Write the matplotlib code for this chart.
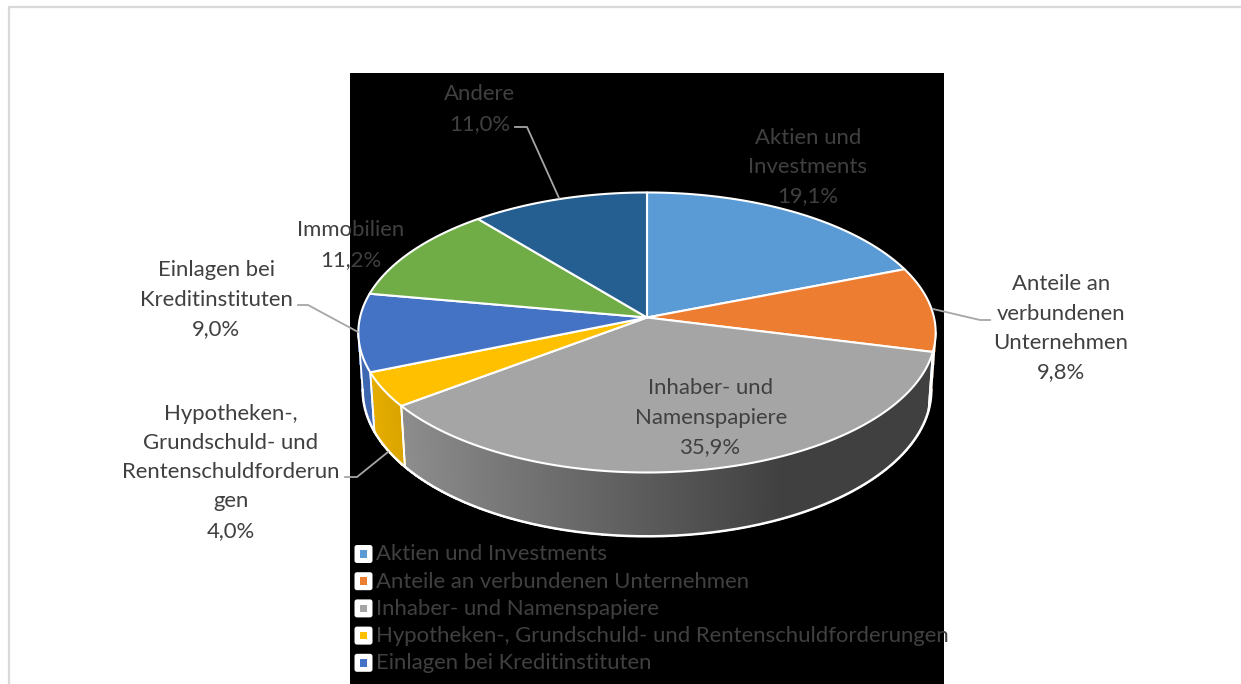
import numpy as np
import matplotlib
matplotlib.use("Agg")
import matplotlib.pyplot as plt
from matplotlib.colors import to_rgb
from matplotlib.patches import FancyBboxPatch, Polygon, Rectangle

plt.rcParams["font.family"] = ["Lato", "DejaVu Sans"]

categories = ["Aktien und Investments", "Anteile an verbundenen Unternehmen",
              "Inhaber- und Namenspapiere",
              "Hypotheken-, Grundschuld- und Rentenschuldforderungen",
              "Einlagen bei Kreditinstituten", "Immobilien", "Andere"]
shares = [19.1, 9.8, 35.9, 4.0, 9.0, 11.2, 11.0]
colors = ["#5b9bd5", "#ed7d31", "#a5a5a5", "#ffc000", "#4472c4", "#70ad47", "#255e91"]
wrapped = [["Aktien und", "Investments"], ["Anteile an", "verbundenen", "Unternehmen"],
           ["Inhaber- und", "Namenspapiere"],
           ["Hypotheken-,", "Grundschuld- und", "Rentenschuldforderun", "gen"],
           ["Einlagen bei", "Kreditinstituten"], ["Immobilien"], ["Andere"]]
legend_count = 5

TEXT = "#404040"
CX, CY, R, A, K = 647, 317.5, 287, 138.4, 0.107
DEPTH = 57
FS = 15.9


def project(theta, bottom=False):
    # theta in degrees, clockwise from the top of the pie
    t = np.radians(theta)
    u, v = np.sin(t), -np.cos(t)
    d = 1 - K * v
    scale = 0.985 if bottom else 1.0
    return CX + R * scale * u / d, CY + (A * v + (DEPTH if bottom else 0)) / d


fig = plt.figure(figsize=(12.41, 6.84), dpi=100)
ax = fig.add_axes([0, 0, 1, 1])
ax.set_xlim(0, 1241)
ax.set_ylim(684, 0)
ax.axis("off")

# frame and black plot background
ax.plot([9, 9, 1241], [684, 7, 7], color="#d9d9d9", lw=1.6, zorder=1)
ax.add_patch(Rectangle((350, 73), 594, 611, fc="black", ec="none", zorder=1))

edges = np.concatenate([[0], np.cumsum(shares)]) / sum(shares) * 360
vis_lo, vis_hi = 96.1, 263.9

# side walls with the lighting gradient
for i, col in enumerate(colors):
    lo, hi = max(edges[i], vis_lo), min(edges[i + 1], vis_hi)
    if hi <= lo:
        continue
    th = np.linspace(lo, hi, int((hi - lo) * 3) + 2)
    base = np.array(to_rgb(col))
    for a, b in zip(th[:-1], th[1:]):
        xt, yt = project(np.array([a, b]))
        xb, yb = project(np.array([b, a]), bottom=True)
        f = np.clip(0.55 - 0.38 * np.sin(np.radians((a + b) / 2)), 0.39, 0.9)
        ax.add_patch(Polygon(np.c_[np.r_[xt, xb], np.r_[yt, yb]], fc=base * f,
                             ec=base * f, lw=0.8, antialiased=False, zorder=2))
    # white seams between side walls
    for e in (lo, hi):
        xs, ys = zip(project(e), project(e, bottom=True))
        ax.plot(xs, ys, color="white", lw=1.3, zorder=3, solid_capstyle="round")

# outline of the bottom rim
th = np.linspace(vis_lo, vis_hi, 300)
ax.plot(*project(th, bottom=True), color="white", lw=1.8, zorder=3)

# top faces
for i, col in enumerate(colors):
    th = np.linspace(edges[i], edges[i + 1], 120)
    x, y = project(th)
    ax.add_patch(Polygon(np.c_[np.r_[CX, x], np.r_[CY, y]], fc=col, ec="white",
                         lw=1.5, joinstyle="round", zorder=4))

# leader lines
leaders = [([515, 527, 559], [127, 127, 198]),
           ([933, 980, 990], [309, 320, 320]),
           ([298, 308, 358], [305, 305, 332]),
           ([345, 357, 388], [477, 477, 452])]
for xs, ys in leaders:
    ax.plot(xs, ys, color="#a6a6a6", lw=1.3, zorder=5)

# data labels: centre x and first line y
label_x = [808, 1061, 711, 231, 216, 351, 480]
label_y = [136, 283, 387, 412, 269, 229, 93]
for i, lines in enumerate(wrapped):
    pct = f"{shares[i]:.1f}%".replace(".", ",")
    for j, line in enumerate(lines + [pct]):
        ax.text(label_x[i], label_y[i] + 29.3 * j + 7.5, line, ha="center", va="baseline",
                fontsize=FS, color=TEXT, zorder=6)

# legend, cut off by the bottom of the plot area
for i in range(legend_count):
    y = 554 + 27.2 * i
    ax.add_patch(FancyBboxPatch((354.5, y - 9), 18, 18, boxstyle="round,pad=0,rounding_size=2.5",
                                fc="white", ec="none", zorder=6))
    ax.add_patch(Rectangle((359.7, y - 3.8), 7.6, 7.6, fc=colors[i], ec="none", zorder=7))
    ax.text(376, y + 6.5, categories[i], ha="left", va="baseline", fontsize=FS,
            color=TEXT, zorder=7)

fig.savefig("out.png", dpi=100)
